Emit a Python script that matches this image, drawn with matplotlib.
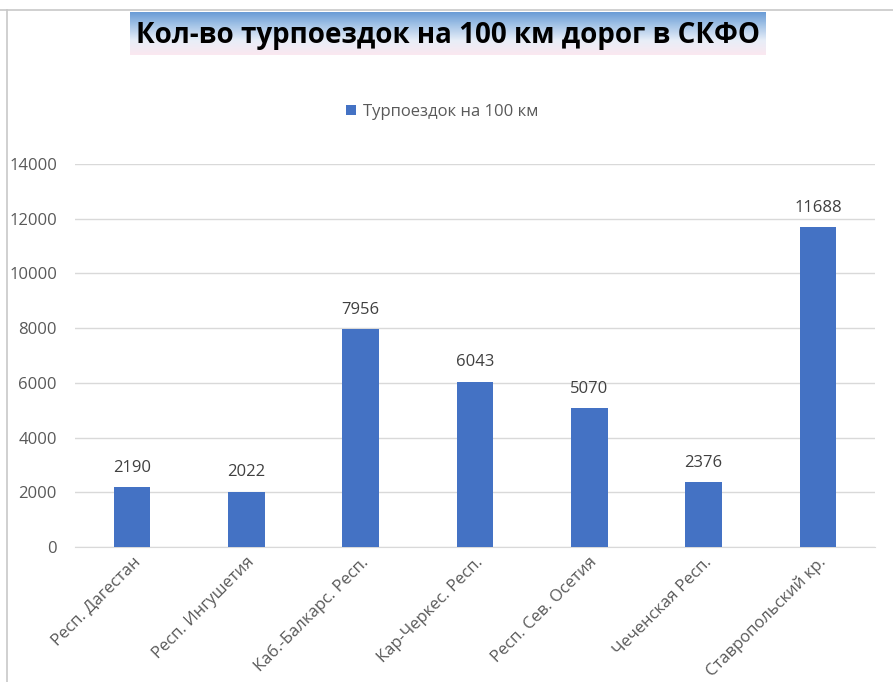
import numpy as np
import matplotlib.pyplot as plt
from matplotlib.colors import LinearSegmentedColormap

regions = ["Респ. Дагестан", "Респ. Ингушетия", "Каб.-Балкарс. Респ.",
           "Кар-Черкес. Респ.", "Респ. Сев. Осетия", "Чеченская Респ.",
           "Ставропольский кр."]
trips = [2190, 2022, 7956, 6043, 5070, 2376, 11688]
yticks = [0, 2000, 4000, 6000, 8000, 10000, 12000, 14000]

plt.rcParams['font.family'] = ['Open Sans', 'DejaVu Sans']

W, H = 893, 682
fig = plt.figure(figsize=(W/100, H/100), dpi=100)

# frame lines of the cropped chart area
fig.add_artist(plt.Line2D([0, 1], [1-10/H, 1-10/H], color='#c8c8c8', lw=1.2))
fig.add_artist(plt.Line2D([7/W, 7/W], [0, 1-10/H], color='#c8c8c8', lw=1.2))

# title with gradient background
tax = fig.add_axes([130/W, 1-55/H, 636/W, 43/H])
cmap = LinearSegmentedColormap.from_list("tg", ["#6a9cd6", "#a9c7e8", "#e8eef8", "#fbe8f0"])
grad = np.linspace(0, 1, 100).reshape(-1, 1)
tax.imshow(grad, aspect='auto', cmap=cmap, extent=[0, 1, 0, 1])
tax.set_axis_off()
tax.text(0.5, 0.45, "Кол-во турпоездок на 100 км дорог в СКФО", ha='center', va='center',
         fontsize=20, fontweight='bold', color='black', transform=tax.transAxes)

ax = fig.add_axes([75/W, 1-547/H, 800/W, (547-164)/H])
x = np.arange(len(regions))
bars = ax.bar(x, trips, width=0.32, color='#4472C4', label='Турпоездок на 100 км', zorder=3)
for xi, v in zip(x, trips):
    ax.text(xi, v + 420, str(v), ha='center', va='bottom', fontsize=12, color='#404040')

ax.set_xlim(-0.5, len(regions) - 0.5)
ax.set_ylim(0, 14000)
ax.set_yticks(yticks)
ax.set_yticklabels([str(t) for t in yticks])
ax.yaxis.grid(True, color='#d9d9d9', lw=1, zorder=0)
ax.tick_params(axis='y', length=0, pad=13, labelsize=12, labelcolor='#595959')
ax.tick_params(axis='x', length=0, pad=5, labelsize=12, labelcolor='#595959')
ax.set_xticks(x)
ax.set_xticklabels(regions, rotation=45, ha='right', rotation_mode='anchor')
for s in ['top', 'right', 'left']:
    ax.spines[s].set_visible(False)
ax.spines['bottom'].set_color('#d9d9d9')

ax.legend(loc='center', bbox_to_anchor=(442/W, 1-112/H), bbox_transform=fig.transFigure,
          frameon=False, fontsize=12, labelcolor='#595959', handlelength=0.6,
          handleheight=0.6, handletextpad=0.4)

fig.savefig("out.png", dpi=100)
